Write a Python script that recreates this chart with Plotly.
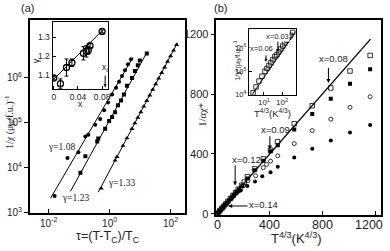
import numpy as np
import plotly.graph_objects as go

W, H = 390, 251

# ---------------- Panel (a): 1/chi vs tau (log-log) ----------------
tau_108 = [0.0157, 0.0415, 0.0946, 0.160, 0.200, 0.337, 0.491, 0.662, 0.893, 1.21, 1.63, 2.04, 2.55, 3.19, 4.00, 5.00]
inv_108 = [2350, 16500, 22300, 49600, 54800, 90500, 122000, 192000, 286000, 427000, 606000, 818000, 1.10e6, 1.49e6, 2.01e6, 2.59e6]
fit_108_tau = [0.0116, 5.81]
fit_108_inv = [2120, 2.86e6]

tau_123 = [0.110, 0.160, 0.392, 0.423, 0.714, 0.964, 1.21, 1.51, 1.89, 2.36, 2.96, 3.71, 5.40, 6.75, 8.45, 9.82, 16.6]
inv_123 = [7790, 18200, 38600, 44900, 74100, 110000, 135000, 173000, 246000, 316000, 427000, 670000, 1.0e6, 1.42e6, 1.92e6, 2.46e6, 3.49e6]
fit_123_tau = [0.0519, 15.4]
fit_123_inv = [3000, 3.33e6]

tau_133 = [0.530, 1.51, 1.75, 2.75, 3.71, 5.40, 6.75, 8.45, 10.6, 13.2, 16.6, 20.8, 26.0, 32.5, 40.7, 51.0, 63.8, 79.8, 100, 125, 157]
inv_133 = [3490, 14600, 17600, 31100, 45800, 74100, 98400, 131000, 174000, 233000, 310000, 412000, 548000, 733000, 975000, 1.30e6, 1.73e6, 2.31e6, 3.07e6, 4.10e6, 5.46e6]
fit_133_tau = [0.423, 169]
fit_133_inv = [2870, 6.07e6]

a_xticks = [0.01, 1, 100]
a_xticklabels = ["10<sup>-2</sup>", "10<sup>0</sup>", "10<sup>2</sup>"]
a_yticks = [1e3, 1e4, 1e5, 1e6]
a_yticklabels = ["10<sup>3</sup>", "10<sup>4</sup>", "10<sup>5</sup>", "10<sup>6</sup>"]

gamma_labels = ["γ=1.08", "γ=1.23", "γ=1.33"]
gamma_label_tau = [0.026, 0.0755, 2.45]
gamma_label_inv = [28600, 2120, 4490]

# inset (a): gamma vs x
ins_a_x = [0, 0.011, 0.021, 0.030, 0.049, 0.054, 0.057, 0.060, 0.080]
ins_a_gamma = [1.085, 1.055, 1.140, 1.165, 1.215, 1.225, 1.230, 1.255, 1.330]
ins_a_err = [0.010, 0.025, 0.045, 0.020, 0.035, 0.030, 0.020, 0.010, 0.008]
ins_a_fit_x = [0, 0.080]
ins_a_fit_g = [1.078, 1.334]
ins_a_xticks = [0, 0.04, 0.08]
ins_a_xticklabels = ["0", "0.04", "0.08"]
ins_a_yticks = [1.1, 1.2, 1.3]
xc_value = 0.085

# ---------------- Panel (b): 1/(alpha chi*) vs T^{4/3} ----------------
osq_T = [8, 20, 35, 50, 65, 80, 100, 120, 140, 160, 185, 205, 229, 284, 350, 405, 458, 585, 722, 863, 1009, 1162]
osq_y = [8, 21, 36, 51, 66, 82, 102, 123, 143, 164, 190, 212, 248, 300, 367, 425, 482, 602, 722, 841, 954, 1058]

fsq_T = [5, 15, 28, 42, 58, 72, 90, 108, 125, 145, 165, 190, 229, 284, 350, 405, 460, 585, 722, 863, 1009, 1162]
fsq_y = [5, 15, 28, 42, 58, 72, 90, 107, 124, 143, 162, 185, 235, 290, 355, 417, 458, 563, 667, 769, 869, 965]

ocir_T = [10, 22, 38, 52, 68, 85, 102, 120, 138, 158, 178, 200, 234, 292, 350, 375, 405, 460, 585, 722, 863, 1009, 1162]
ocir_y = [10, 22, 38, 52, 67, 84, 100, 117, 134, 152, 170, 188, 222, 254, 308, 330, 352, 387, 469, 556, 632, 711, 782]

fcir_T = [6, 18, 30, 45, 60, 75, 92, 110, 128, 148, 165, 179, 229, 287, 342, 405, 460, 585, 722, 863, 1009, 1162]
fcir_y = [6, 18, 30, 45, 59, 74, 90, 106, 122, 140, 152, 156, 186, 215, 250, 278, 315, 376, 435, 489, 543, 593]

b_line_T = [0, 1165]
b_line_y = [0, 1167]
b_ticks = [0, 400, 800, 1200]
b_ticklabels = ["0", "400", "800", "1200"]

b_labels = ["x=0.08", "x=0.09", "x=0.12", "x=0.14"]
b_label_T = [883, 445, 219, 355]
b_label_y = [1037, 561, 365, 59]
b_arrow_tip_T = [845, 400, 136, 83]
b_arrow_tip_y = [874, 430, 189, 52]
b_arrow_tail_T = [845, 400, 136, 242]
b_arrow_tail_y = [985, 528, 333, 52]

# inset (b): log-log
ins_b_T = [2.51, 3.66, 5.33, 7.78, 11.3, 14.6, 18.8, 24.1, 31.0, 39.9, 51.3, 66.0, 84.9, 109, 141, 181, 232, 299, 384]
ins_b_y = [12100, 21500, 38300, 61900, 100000, 133000, 178000, 237000, 316000, 422000, 511000, 681000, 908000, 1.21e6, 1.62e6, 2.15e6, 2.87e6, 3.48e6, 4.64e6]
ins_b_line_T = [2.21, 562]
ins_b_line_y = [1e4, 5.1e6]
ins_b_xticks = [10, 100]
ins_b_xticklabels = ["10<sup>1</sup>", "10<sup>2</sup>"]
ins_b_yticks = [1e4, 1e5, 1e6]
ins_b_yticklabels = ["10<sup>4</sup>", "10<sup>5</sup>", "10<sup>6</sup>"]
ins_b_labels = ["x=0.03", "x=0.06"]
ins_b_label_T = [58.2, 7.78]
ins_b_label_y = [3.16e6, 9.1e5]
ins_b_arrow_T = [58.2, 12.9]
ins_b_arrow_tail_y = [2.15e6, 5.6e5]
ins_b_arrow_tip_y = [6.8e5, 2.6e5]

# ---------------- helpers (layout only) ----------------
def dom_x(p0, p1):
    return [p0 / W, p1 / W]

def dom_y(top, bottom):
    return [1 - bottom / H, 1 - top / H]

SANS = "Liberation Sans, Arial, sans-serif"
SERIF = "Liberation Serif, Times New Roman, serif"

fig = go.Figure()

# panel (a)
for fx, fy in [(fit_108_tau, fit_108_inv), (fit_123_tau, fit_123_inv), (fit_133_tau, fit_133_inv)]:
    fig.add_trace(go.Scatter(x=fx, y=fy, mode="lines", line=dict(color="black", width=1), xaxis="x", yaxis="y"))
fig.add_trace(go.Scatter(x=tau_108, y=inv_108, mode="markers", marker=dict(symbol="circle", size=4, color="black"), xaxis="x", yaxis="y"))
fig.add_trace(go.Scatter(x=tau_123, y=inv_123, mode="markers", marker=dict(symbol="square", size=4, color="black"), xaxis="x", yaxis="y"))
fig.add_trace(go.Scatter(x=tau_133, y=inv_133, mode="markers", marker=dict(symbol="triangle-up", size=4.5, color="black"), xaxis="x", yaxis="y"))

# inset (a)
fig.add_trace(go.Scatter(x=ins_a_fit_x, y=ins_a_fit_g, mode="lines", line=dict(color="black", width=1), xaxis="x2", yaxis="y2"))
fig.add_trace(go.Scatter(x=ins_a_x, y=ins_a_gamma, mode="markers",
                         marker=dict(symbol="circle-open", size=6, color="black", line=dict(width=1.3)),
                         error_y=dict(type="data", array=ins_a_err, color="black", thickness=1, width=2),
                         xaxis="x2", yaxis="y2"))

# panel (b)
fig.add_trace(go.Scatter(x=b_line_T, y=b_line_y, mode="lines", line=dict(color="black", width=1.3), xaxis="x3", yaxis="y3"))
fig.add_trace(go.Scatter(x=fcir_T, y=fcir_y, mode="markers", marker=dict(symbol="circle", size=4, color="black"), xaxis="x3", yaxis="y3"))
fig.add_trace(go.Scatter(x=ocir_T, y=ocir_y, mode="markers", marker=dict(symbol="circle-open", size=4, color="black", line=dict(width=0.8)), xaxis="x3", yaxis="y3"))
fig.add_trace(go.Scatter(x=fsq_T, y=fsq_y, mode="markers", marker=dict(symbol="square", size=4, color="black"), xaxis="x3", yaxis="y3"))
fig.add_trace(go.Scatter(x=osq_T, y=osq_y, mode="markers", marker=dict(symbol="square-open", size=4.5, color="black", line=dict(width=0.8)), xaxis="x3", yaxis="y3"))

# inset (b)
fig.add_trace(go.Scatter(x=ins_b_line_T, y=ins_b_line_y, mode="lines", line=dict(color="black", width=1), xaxis="x4", yaxis="y4"))
fig.add_trace(go.Scatter(x=ins_b_T, y=ins_b_y, mode="markers", marker=dict(symbol="square-open", size=4.5, color="black", line=dict(width=0.8)), xaxis="x4", yaxis="y4"))

ax_common = dict(showline=True, linecolor="black", mirror=True, showgrid=False, zeroline=False,
                 tickcolor="black", ticklen=4, tickwidth=1)

layout = dict(
    width=W, height=H, margin=dict(l=0, r=0, t=0, b=0),
    paper_bgcolor="white", plot_bgcolor="white", showlegend=False,
    font=dict(family=SANS, color="black"),
    xaxis=dict(ax_common, type="log", range=[-2.62, 2.46], domain=dom_x(29, 185), anchor="y",
               linewidth=1.5, ticks="inside", tickvals=a_xticks, ticktext=a_xticklabels,
               tickfont=dict(size=10, family=SANS, color="#222")),
    yaxis=dict(ax_common, type="log", range=[3, 7.30], domain=dom_y(20, 218), anchor="x",
               linewidth=1.5, ticks="outside", tickvals=a_yticks, ticktext=a_yticklabels,
               tickfont=dict(size=10, family=SANS, color="#222")),
    xaxis2=dict(ax_common, range=[-0.002, 0.090], domain=dom_x(52, 108), anchor="y2",
                linewidth=1.3, ticks="inside", ticklen=3, tickvals=ins_a_xticks, ticktext=ins_a_xticklabels,
                tickfont=dict(size=8.5, family=SANS, color="#222")),
    yaxis2=dict(ax_common, range=[1.028, 1.377], domain=dom_y(23, 91), anchor="x2",
                linewidth=1.3, ticks="inside", ticklen=3, tickvals=ins_a_yticks,
                tickfont=dict(size=8.5, family=SANS, color="#222")),
    xaxis3=dict(ax_common, range=[-7, 1245], domain=dom_x(217, 383), anchor="y3",
                linewidth=1.5, ticks="inside", tickvals=b_ticks, showticklabels=False),
    yaxis3=dict(ax_common, range=[-6.5, 1298], domain=dom_y(20, 220), anchor="x3",
                linewidth=1.5, ticks="outside", tickvals=b_ticks,
                tickfont=dict(size=11, family=SANS, color="#222")),
    xaxis4=dict(ax_common, type="log", range=[0.18, 2.75], domain=dom_x(250, 297), anchor="y4",
                linewidth=1.3, ticks="inside", ticklen=3, tickvals=ins_b_xticks, ticktext=ins_b_xticklabels,
                tickfont=dict(size=8, family=SANS, color="#222")),
    yaxis4=dict(ax_common, type="log", range=[4.0, 6.8], domain=dom_y(30, 97), anchor="x4",
                linewidth=1.3, ticks="inside", ticklen=3, tickvals=ins_b_yticks, ticktext=ins_b_yticklabels,
                tickfont=dict(size=7.5, family=SANS, color="#222")),
)
fig.update_layout(**layout)

ann = []
def paper_text(text, px, py, size, family=SANS, angle=0, color="#222"):
    ann.append(dict(text=text, x=px / W, y=1 - py / H, xref="paper", yref="paper",
                    showarrow=False, textangle=angle, font=dict(size=size, family=family, color=color),
                    xanchor="center", yanchor="middle"))

def arrow(xr, yr, x, y, ax, ay, size=0.8):
    ann.append(dict(text="", x=x, y=y, ax=ax, ay=ay, xref=xr, yref=yr, axref=xr, ayref=yr,
                    showarrow=True, arrowhead=2, arrowsize=size, arrowwidth=1, arrowcolor="black"))

# panel labels and axis titles
paper_text("(a)", 27, 8, 11)
paper_text("(b)", 221, 8, 11)
paper_text("τ=(T-T<sub>C</sub>)/T<sub>C</sub>", 107, 243, 12.5)
paper_text("1/χ (μ<sub>B</sub>/f.u.)<sup>-1</sup>", 9, 125, 10, family=SERIF, angle=-90)
paper_text("T<sup>4/3</sup>(K<sup>4/3</sup>)", 298, 244, 13)
paper_text("1/αχ*", 203, 117, 10.5, family=SERIF, angle=-90)
paper_text("γ", 35, 62, 9, angle=-90)
paper_text("x", 80, 107, 8.5)
paper_text("T<sup>4/3</sup>(K<sup>4/3</sup>)", 274, 116, 9.5)
paper_text("1/χ*(μ<sub>B</sub>/f.u.)<sup>-1</sup>", 238, 62, 7, angle=-90)

# x tick labels of panel (b), last one nudged inward as in the reference
b_label_shift = [0, 0, 0, -6]
for v, t, s in zip(b_ticks, b_ticklabels, b_label_shift):
    ann.append(dict(text=t, x=v, y=1 - 230 / H, xref="x3", yref="paper", showarrow=False,
                    xshift=s, font=dict(size=12.5, family=SANS, color="#222"), yanchor="middle"))

# gamma labels (a)
for t, xv, yv in zip(gamma_labels, gamma_label_tau, gamma_label_inv):
    ann.append(dict(text=t, x=np.log10(xv), y=np.log10(yv), xref="x", yref="y", showarrow=False,
                    font=dict(size=9.5, family=SERIF, color="#222")))

# x_c in inset (a)
ann.append(dict(text="x<sub>c</sub>", x=xc_value, y=1.140, xref="x2", yref="y2", showarrow=False,
                font=dict(size=8.5, family=SANS, color="#222")))
arrow("x2", "y2", xc_value, 1.036, xc_value, 1.105, size=0.6)

# panel (b) labels and arrows
for t, xv, yv in zip(b_labels, b_label_T, b_label_y):
    ann.append(dict(text=t, x=xv, y=yv, xref="x3", yref="y3", showarrow=False,
                    font=dict(size=9.5, family=SANS, color="#222")))
for tx, ty, sx, sy in zip(b_arrow_tip_T, b_arrow_tip_y, b_arrow_tail_T, b_arrow_tail_y):
    arrow("x3", "y3", tx, ty, sx, sy)

# inset (b) labels and arrows
for t, xv, yv in zip(ins_b_labels, ins_b_label_T, ins_b_label_y):
    ann.append(dict(text=t, x=np.log10(xv), y=np.log10(yv), xref="x4", yref="y4", showarrow=False,
                    bgcolor="white", borderpad=0,
                    font=dict(size=7.5, family=SANS, color="#222")))
for xv, sy, ty in zip(ins_b_arrow_T, ins_b_arrow_tail_y, ins_b_arrow_tip_y):
    arrow("x4", "y4", np.log10(xv), np.log10(ty), np.log10(xv), np.log10(sy), size=0.6)

fig.update_layout(annotations=ann)
fig.write_html("out.html", config={"displayModeBar": False},
               post_script="document.body.style.margin='0';document.body.style.overflow='hidden';")
